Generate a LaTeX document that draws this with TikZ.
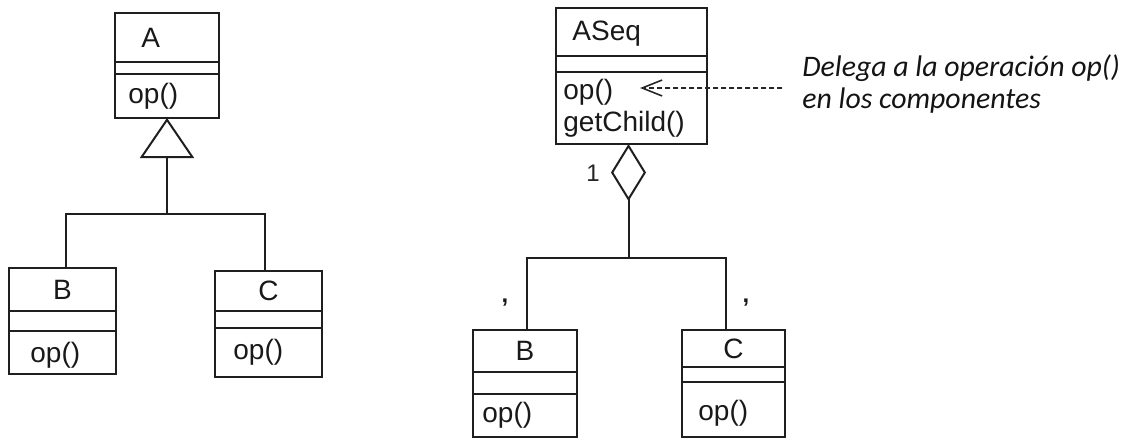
\documentclass[tikz,border=0pt]{standalone}
\usepackage{fontspec}
\newfontfamily\umlfont{Liberation Sans}
\newfontfamily\notefont{Carlito}
\usetikzlibrary{positioning,arrows.meta}
\tikzset{
  % --- class compartments ----------------------------------------------
  cmp/.style     ={rectangle, draw=black!88, line width=1pt, inner sep=0,
                   outer sep=0, anchor=north west},
  cname/.style   ={inner sep=0, font=\umlfont\fontsize{14}{16}\selectfont,
                   text=black!90},
  optxt/.style   ={cname, align=left},
  mult/.style    ={inner sep=0, font=\umlfont\fontsize{12}{14}\selectfont,
                   text=black!85},
  tick/.style    ={inner sep=0, font=\umlfont\bfseries\fontsize{12}{14}\selectfont,
                   text=black!90},
  % --- annotation --------------------------------------------------------
  note/.style    ={inner sep=0, align=left, text=black!92,
                   font=\notefont\itshape\fontsize{14.9}{16}\selectfont},
  % --- connectors --------------------------------------------------------
  link/.style    ={line width=1pt, draw=black!88},
  inherit/.style ={link, {Triangle[open, length=20pt, width=27pt]}-},
  aggr/.style    ={link, {Diamond[open, length=28.5pt, width=17.5pt]}-},
  delegate/.style={-{Straight Barb[length=10pt, width=8pt]}, line width=0.8pt,
                   draw=black!85, dash pattern=on 2.5pt off 1.5pt},
}

\begin{document}
\begin{tikzpicture}[x=0.5pt, y=-0.5pt]
  \useasboundingbox (0,0) rectangle (1138,439);

  % ============================ left: A generalises B, C ============================
  \node[cmp, minimum width=52pt, minimum height=24.5pt] (A-name) at (115,13) {};
  \node[cmp, minimum width=52pt, minimum height=6pt, below=0pt of A-name] (A-attr) {};
  \node[cmp, minimum width=52pt, minimum height=22pt, below=0pt of A-attr] (A-ops) {};
  \node[cname, right=13pt of A-name.west] (A-t) {A};
  \node[optxt, right=6.5pt of A-ops.west] (A-op) {op()};

  \node[cmp, minimum width=53.5pt, minimum height=21.5pt] (B-name) at (9,268) {};
  \node[cmp, minimum width=53.5pt, minimum height=10pt, below=0pt of B-name] (B-attr) {};
  \node[cmp, minimum width=53.5pt, minimum height=21.5pt, below=0pt of B-attr] (B-ops) {};
  \node[cname] (B-t) at (B-name) {B};
  \node[optxt, right=10.5pt of B-ops.west, yshift=-1.5pt] (B-op) {op()};

  \node[cmp, minimum width=53.5pt, minimum height=20pt] (C-name) at (215,271) {};
  \node[cmp, minimum width=53.5pt, minimum height=8.5pt, below=0pt of C-name] (C-attr) {};
  \node[cmp, minimum width=53.5pt, minimum height=24.5pt, below=0pt of C-attr] (C-ops) {};
  \node[cname] (C-t) at (C-name) {C};
  \node[optxt, right=9pt of C-ops.west] (C-op) {op()};

  \draw[inherit] (A-ops.south) -- ++(0,96) coordinate (jL);
  \draw[link] ([xshift=1.5pt]B-name.north) |- (jL) -| ([xshift=-2pt]C-name.north);

  % ============================ right: ASeq aggregates B, C ============================
  \node[cmp, minimum width=75.5pt, minimum height=24pt] (S-name) at (556,8) {};
  \node[cmp, minimum width=75.5pt, minimum height=8pt, below=0pt of S-name] (S-attr) {};
  \node[cmp, minimum width=75.5pt, minimum height=36pt, below=0pt of S-attr] (S-ops) {};
  \node[cname, right=8pt of S-name.west, yshift=-1pt] (S-t) {ASeq};
  \node[optxt, right=3.5pt of S-ops.west] (S-op) {op()\\getChild()};

  \node[cmp, minimum width=52pt, minimum height=21pt] (B2-name) at (473,330) {};
  \node[cmp, minimum width=52pt, minimum height=11pt, below=0pt of B2-name] (B2-attr) {};
  \node[cmp, minimum width=52pt, minimum height=21.5pt, below=0pt of B2-attr] (B2-ops) {};
  \node[cname] (B2-t) at (B2-name) {B};
  \node[optxt, right=4.5pt of B2-ops.west] (B2-op) {op()};

  \node[cmp, minimum width=51.5pt, minimum height=18.5pt] (C2-name) at (682,330) {};
  \node[cmp, minimum width=51.5pt, minimum height=7.5pt, below=0pt of C2-name] (C2-attr) {};
  \node[cmp, minimum width=51.5pt, minimum height=27.5pt, below=0pt of C2-attr] (C2-ops) {};
  \node[cname] (C2-t) at (C2-name) {C};
  \node[optxt, right=8pt of C2-ops.west, yshift=-2pt] (C2-op) {op()};

  \draw[aggr] ([xshift=-1.5pt]S-ops.south) -- ++(0,114) coordinate (jR);
  \draw[link] ([xshift=1pt]B2-name.north) |- (jR) -| ([xshift=-4pt]C2-name.north);

  % multiplicities
  \node[mult] (one) at (593,173) {1};
  \node[tick] (mB) at (505,303) {,};
  \node[tick] (mC) at (746,303) {,};

  % ============================ note on op() ============================
  \node[note, anchor=west] (note) at (802,84)
    {Delega a la operación op()\\en los componentes};
  \coordinate (opref) at (640,88);
  \draw[delegate, shorten <=10pt] (note.west |- opref) -- (opref);

\end{tikzpicture}
\end{document}
